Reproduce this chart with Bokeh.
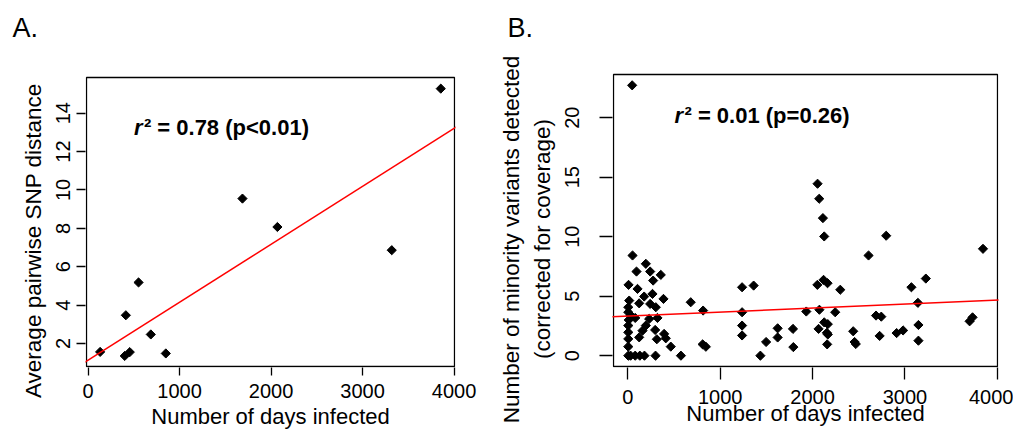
import numpy as np
from bokeh.plotting import figure
from bokeh.layouts import row
from bokeh.models import Range1d, FixedTicker, Slope, Label, Title
from bokeh.embed import file_html
from bokeh.resources import INLINE

FONT = "Liberation Sans"

# ---- Panel A data ----
days_a = [131, 400, 455, 412, 551, 685, 849, 1687, 2069, 3319, 3855]
snp_a = [1.56, 1.35, 1.55, 3.47, 5.18, 2.47, 1.48, 9.55, 8.07, 6.86, 15.28]
fit_a_intercept = 1.13
fit_a_slope = 0.00302
stat_a = "\u00b2 = 0.78 (p<0.01)"

# ---- Panel B data ----
days_b = [47, 51, 195, 94, 242, 357, 274, 8, 105, 267, 177, 386, 15, 123, 242, 303,
          5, 5, 30, 80, 231, 321, 10, 195, 296, 159, 123, 393, 411, 314, 465,
          5, 5, 5, 5, 5, 30, 80, 130, 180, 300, 575, 681, 815, 810, 845,
          1237, 1362, 1237, 1237, 1237, 1435, 1497, 1622, 1622, 1788, 1792, 1932,
          2054, 2072, 2112, 2126, 2052, 2119, 2162, 2074, 2065, 2126, 2165, 2155,
          2165, 2158, 2245, 2300, 2606, 2797, 3070, 3226, 3140, 2687, 2744, 2440,
          2455, 2468, 2726, 2910, 2980, 3146, 3146, 3700, 3732, 3845]
variants_b = [22.72, 8.42, 7.72, 7.07, 7.07, 6.79, 6.31, 5.95, 5.61, 5.19, 4.97, 4.77,
              4.63, 4.40, 4.35, 4.07, 4.07, 3.65, 3.40, 3.17, 3.09, 3.17, 3.00, 2.53,
              2.16, 2.10, 1.54, 1.83, 1.46, 1.38, 0.76,
              2.53, 1.96, 1.41, 0.76, 0.0, 0.0, 0.0, 0.0, 0.0, 0.0, 0.0, 4.49, 3.79,
              0.95, 0.75,
              5.75, 5.89, 3.65, 2.53, 1.70, 0.0, 1.15, 2.30, 1.53, 2.25, 0.72, 3.71,
              14.45, 13.19, 11.56, 10.02, 5.95, 6.37, 6.09, 3.86, 2.25, 2.80, 2.65, 1.92,
              1.78, 0.95, 3.65, 5.54, 8.42, 10.08, 5.75, 6.48, 4.44, 3.37, 3.28, 2.05,
              1.15, 0.98, 1.66, 1.90, 2.12, 2.58, 1.26, 2.89, 3.22, 8.98]
fit_b_intercept = 3.33
fit_b_slope = 0.000337
stat_b = "\u00b2 = 0.01 (p=0.26)"

x_ticks = [0, 1000, 2000, 3000, 4000]
y_ticks_a = [2, 4, 6, 8, 10, 12, 14]
y_ticks_b = [0, 5, 10, 15, 20]

# plot-region limits (the drawn box) of each panel
box_a = dict(x0=-18, x1=4005, y0=0.80, y1=15.86)
box_b = dict(x0=-155, x1=4002, y0=-0.91, y1=23.63)

xlabel = "Number of days infected"
ylabel_a = "Average pairwise SNP distance"
ylabel_b1 = "Number of minority variants detected"
ylabel_b2 = "(corrected for coverage)"


def ranges(box, box_w, box_h, pad_left, pad_right, pad_bottom, pad_top):
    ux = (box["x1"] - box["x0"]) / box_w
    uy = (box["y1"] - box["y0"]) / box_h
    return (Range1d(box["x0"] - pad_left * ux, box["x1"] + pad_right * ux),
            Range1d(box["y0"] - pad_bottom * uy, box["y1"] + pad_top * uy))


def style(p, box, xt, yt, xtick_len, ytick_len, xlab_std, xaxlab_std, ylab_std):
    p.xgrid.visible = False
    p.ygrid.visible = False
    p.outline_line_color = None
    p.background_fill_color = "white"
    p.border_fill_color = "white"
    p.quad(left=box["x0"], right=box["x1"], bottom=box["y0"], top=box["y1"],
           fill_color=None, line_color="black", line_width=1.3)
    p.xaxis.ticker = FixedTicker(ticks=xt, minor_ticks=[])
    p.yaxis.ticker = FixedTicker(ticks=yt, minor_ticks=[])
    for ax in (p.xaxis[0], p.yaxis[0]):
        ax.axis_line_color = None
        ax.major_tick_in = 0
        ax.major_tick_line_color = "black"
        ax.major_tick_line_width = 1.3
        ax.minor_tick_line_color = None
        ax.major_label_text_font = FONT
        ax.major_label_text_font_size = "20px"
        ax.major_label_text_color = "black"
        ax.axis_label_text_font = FONT
        ax.axis_label_text_font_size = "22px"
        ax.axis_label_text_font_style = "normal"
        ax.axis_label_text_color = "black"
    p.xaxis.major_tick_out = xtick_len
    p.yaxis.major_tick_out = ytick_len
    p.xaxis.major_label_standoff = xlab_std
    p.xaxis.axis_label_standoff = xaxlab_std
    p.yaxis.major_label_standoff = ylab_std
    p.yaxis.major_label_orientation = "vertical"
    p.title.text_font = FONT
    p.title.text_font_size = "27px"
    p.title.text_font_style = "normal"
    p.title.text_color = "black"
    p.title.align = "left"
    p.title.vertical_align = "bottom"


def text(p, x, y, s, size, style="normal", x_offset=0):
    p.add_layout(Label(x=x, y=y, text=s, text_font=FONT, text_font_size=size,
                       text_font_style=style, text_color="black",
                       text_baseline="alphabetic", x_offset=x_offset))


def side_title(p, s, offset, standoff, valign="bottom"):
    p.add_layout(Title(text=s, align="left", vertical_align=valign, offset=offset,
                       standoff=standoff, text_font=FONT, text_font_size="22.5px",
                       text_font_style="normal", text_color="black"), "left")


# ---- Panel A ----
xr_a, yr_a = ranges(box_a, 368, 289, 1, 1, 1, 32)
pA = figure(width=485, height=434, x_range=xr_a, y_range=yr_a,
            output_backend="svg", toolbar_location=None, title="A.",
            min_border_left=85, min_border_right=30, min_border_top=45, min_border_bottom=67)
style(pA, box_a, x_ticks, y_ticks_a, 8, 9, 8, 3, 6)
pA.xaxis.axis_label = xlabel
pA.title.offset = -73
pA.title.standoff = 5
side_title(pA, ylabel_a, -30.5, 15)
pA.scatter(days_a, snp_a, marker="square", size=6.5, angle=np.pi / 4,
           fill_color="black", line_color="black")
pA.add_layout(Slope(gradient=fit_a_slope, y_intercept=fit_a_intercept,
                    line_color="red", line_width=1.5))
text(pA, 500, 13.24, "r", "22px", "bold italic")
text(pA, 500, 13.24, stat_a, "22px", "bold", x_offset=10)

# ---- Panel B ----
xr_b, yr_b = ranges(box_b, 384, 292, 1, 1, 1, 29)
pB = figure(width=528, height=434, x_range=xr_b, y_range=yr_b,
            output_backend="svg", toolbar_location=None, title="B.",
            min_border_left=127, min_border_right=15, min_border_top=45, min_border_bottom=67)
style(pB, box_b, x_ticks, y_ticks_b, 12, 13, 10, -6, 20)
pB.xaxis.axis_label = xlabel
pB.title.offset = -105
pB.title.standoff = 5
side_title(pB, ylabel_b2, 8.5, 12, "top")
side_title(pB, ylabel_b1, -55.8, 0)
pB.scatter(days_b, variants_b, marker="square", size=6.5, angle=np.pi / 4,
           fill_color="black", line_color="black")
pB.add_layout(Slope(gradient=fit_b_slope, y_intercept=fit_b_intercept,
                    line_color="red", line_width=1.5))
text(pB, 505, 20.20, "r", "22px", "bold italic")
text(pB, 505, 20.20, stat_b, "22px", "bold", x_offset=10)

layout = row(pA, pB)
open("out.html", "w").write(file_html(layout, INLINE))
